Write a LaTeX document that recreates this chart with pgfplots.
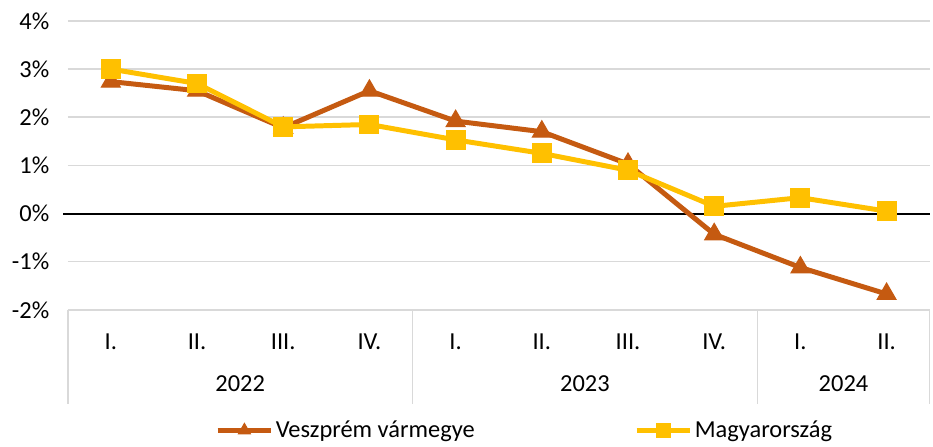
\documentclass[border=0pt]{standalone}
\usepackage{pgfplots}
\pgfplotsset{compat=1.18}
\usepackage{fontspec}
\setmainfont{Carlito}
\definecolor{veszprem}{HTML}{C55A11}
\definecolor{magyar}{HTML}{FFC000}
\definecolor{gridgray}{HTML}{D9D9D9}
\newcommand{\lblfont}{\fontsize{24.5}{29}\selectfont}
\begin{document}
\begin{tikzpicture}
\begin{axis}[
    scale only axis, width=865pt, height=290pt,
    xmin=-0.5, xmax=9.5, ymin=-2, ymax=4,
    clip=false,
    axis line style={draw=none},
    tick pos=left,
    major tick length=0pt,
    ytick={-2,-1,0,1,2,3,4},
    yticklabels={-2\%,-1\%,0\%,1\%,2\%,3\%,4\%},
    yticklabel style={font=\lblfont, xshift=-15pt},
    ymajorgrids, grid style={gridgray, line width=1.5pt},
    xtick={0,...,9},
    xticklabels={I.,II.,III.,IV.,I.,II.,III.,IV.,I.,II.},
    xticklabel style={font=\lblfont, anchor=base, yshift=-40pt},
    extra x ticks={-0.5,3.5,7.5,9.5},
    extra x tick labels={},
    extra x tick style={major tick length=94pt, tick align=outside,
        tick style={gridgray, line width=1.5pt}, xmajorgrids=false},
    legend columns=2,
    legend style={at={(0.53,-0.417)}, anchor=center, draw=none,
        font=\lblfont, /tikz/every even column/.append style={column sep=158pt}},
    legend image code/.code={\draw[mark repeat=2, mark phase=2, #1, mark size=7pt]
        plot coordinates {(0pt,0pt) (27pt,0pt) (54pt,0pt)};},
]
\draw[black, line width=2pt] (axis cs:-0.55,0) -- (axis cs:9.5,0);
\addplot[veszprem, line width=5pt, mark=triangle*, mark size=11pt,
    mark options={solid, line width=1pt}]
    coordinates {(0,2.74) (1,2.55) (2,1.78) (3,2.55) (4,1.92) (5,1.70)
                 (6,1.03) (7,-0.43) (8,-1.12) (9,-1.67)};
\addlegendentry{Veszprém vármegye}
\addplot[magyar, line width=5pt, mark=square*, mark size=9.5pt,
    mark options={solid, line width=1pt}]
    coordinates {(0,3.00) (1,2.70) (2,1.80) (3,1.85) (4,1.53) (5,1.25)
                 (6,0.90) (7,0.15) (8,0.33) (9,0.05)};
\addlegendentry{Magyarország}
\node[font=\lblfont, anchor=base] at (axis cs:1.5,-2) [yshift=-82pt] {2022};
\node[font=\lblfont, anchor=base] at (axis cs:5.5,-2) [yshift=-82pt] {2023};
\node[font=\lblfont, anchor=base] at (axis cs:8.5,-2) [yshift=-82pt] {2024};
\coordinate (sw) at (rel axis cs:0,0);
\coordinate (ne) at (rel axis cs:1,1);
\end{axis}
\path ([shift={(-68pt,-135pt)}]sw) rectangle ([shift={(0pt,21pt)}]ne);
\end{tikzpicture}
\end{document}
